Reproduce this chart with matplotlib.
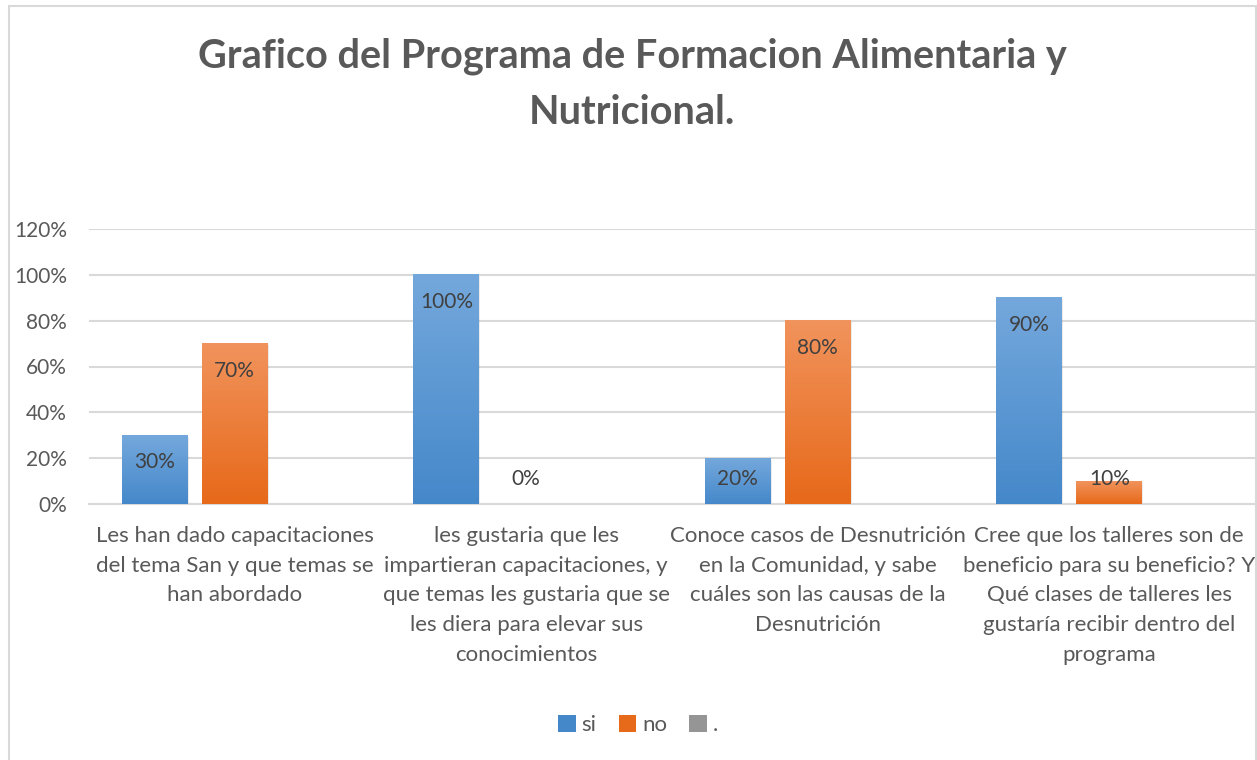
import numpy as np
import matplotlib.pyplot as plt
from matplotlib.patches import Rectangle
from matplotlib.colors import LinearSegmentedColormap

plt.rcParams['font.family'] = ['Lato', 'DejaVu Sans']

# datos del grafico
categorias = [
    "Les han dado capacitaciones\ndel tema San y que temas se\nhan abordado",
    "les gustaria que les\nimpartieran capacitaciones, y\nque temas les gustaria que se\nles diera para elevar sus\nconocimientos",
    "Conoce casos de Desnutrición\nen la Comunidad, y sabe\ncuáles son las causas de la\nDesnutrición",
    "Cree que los talleres son de\nbeneficio para su beneficio? Y\nQué clases de talleres les\ngustaría recibir dentro del\nprograma",
]
si = [30, 100, 20, 90]
no = [70, 0, 80, 10]
punto = [0, 0, 0, 0]
series = ['si', 'no', '.']
yticks = [0, 20, 40, 60, 80, 100, 120]

titulo = "Grafico del Programa de Formacion Alimentaria y\nNutricional."

# colores (arriba, abajo) para el degradado
colores = [('#74A8DC', '#4588CA'), ('#F1935C', '#E7691A'), ('#B5B5B5', '#959595')]
gris_texto = '#595959'

fig = plt.figure(figsize=(12.57, 7.6), dpi=100)
ax = fig.add_axes([89 / 1257, 1 - 504 / 760, (1255 - 89) / 1257, (504 - 229) / 760])

x = np.arange(len(categorias))
ancho = 0.226
desp = [-0.274, 0, 0.274]
valores = [si, no, punto]

for k, (vals, nombre) in enumerate(zip(valores, series)):
    barras = ax.bar(x + desp[k], vals, ancho, color=colores[k][1], label=nombre, zorder=3)
    cmap = LinearSegmentedColormap.from_list('g', [colores[k][1], colores[k][0]])
    for b in barras:
        if b.get_height() <= 0:
            continue
        x0, y0 = b.get_x(), b.get_y()
        w, h = b.get_width(), b.get_height()
        # sombra ligera
        ax.add_patch(Rectangle((x0 + 0.004, y0 - 0.6), w, h, color='#000000', alpha=0.08, zorder=2, lw=0))
        grad = np.linspace(0, 1, 100).reshape(-1, 1)
        ax.imshow(grad, cmap=cmap, extent=[x0, x0 + w, y0, y0 + h], origin='lower',
                  aspect='auto', zorder=4)
    if k < 2:
        for xi, v in zip(x + desp[k], vals):
            ax.text(xi, max(v - 11.8, 10.7), f'{v}%', ha='center', va='center',
                    fontsize=15, color='#404040', zorder=5)

ax.set_xlim(-0.5, len(categorias) - 0.5)
ax.set_ylim(0, 120)
ax.set_yticks(yticks)
ax.set_yticklabels([f'{t}%' for t in yticks], fontsize=15, color=gris_texto)
ax.set_xticks(x)
ax.set_xticklabels(categorias, fontsize=16, color=gris_texto, linespacing=1.6)
ax.tick_params(axis='y', length=0, pad=16)
ax.tick_params(axis='x', length=0, pad=16)
ax.grid(axis='y', color='#D9D9D9', lw=1.5, zorder=0)
for s in ['top', 'right', 'left']:
    ax.spines[s].set_visible(False)
ax.spines['bottom'].set_color('#D9D9D9')
ax.spines['bottom'].set_linewidth(1.5)

fig.text(632 / 1257, 1 - 84 / 760, titulo, ha='center', va='center', fontsize=28.5,
         fontweight='bold', color=gris_texto, linespacing=1.62)

h, l = ax.get_legend_handles_labels()
fig.legend(h, l, loc='center', bbox_to_anchor=(638 / 1257, 1 - 725 / 760), ncol=3,
           frameon=False, fontsize=16, handlelength=0.8, handleheight=0.8,
           handletextpad=0.25, columnspacing=1.0, labelcolor=gris_texto)

# borde del area del grafico
fig.patches.append(Rectangle((8.5 / 1257, -0.01), (1256 - 8.5) / 1257, 1.01 - 6 / 760,
                             transform=fig.transFigure, fill=False, ec='#D9D9D9', lw=1.5))

fig.savefig('out.png', dpi=100)
